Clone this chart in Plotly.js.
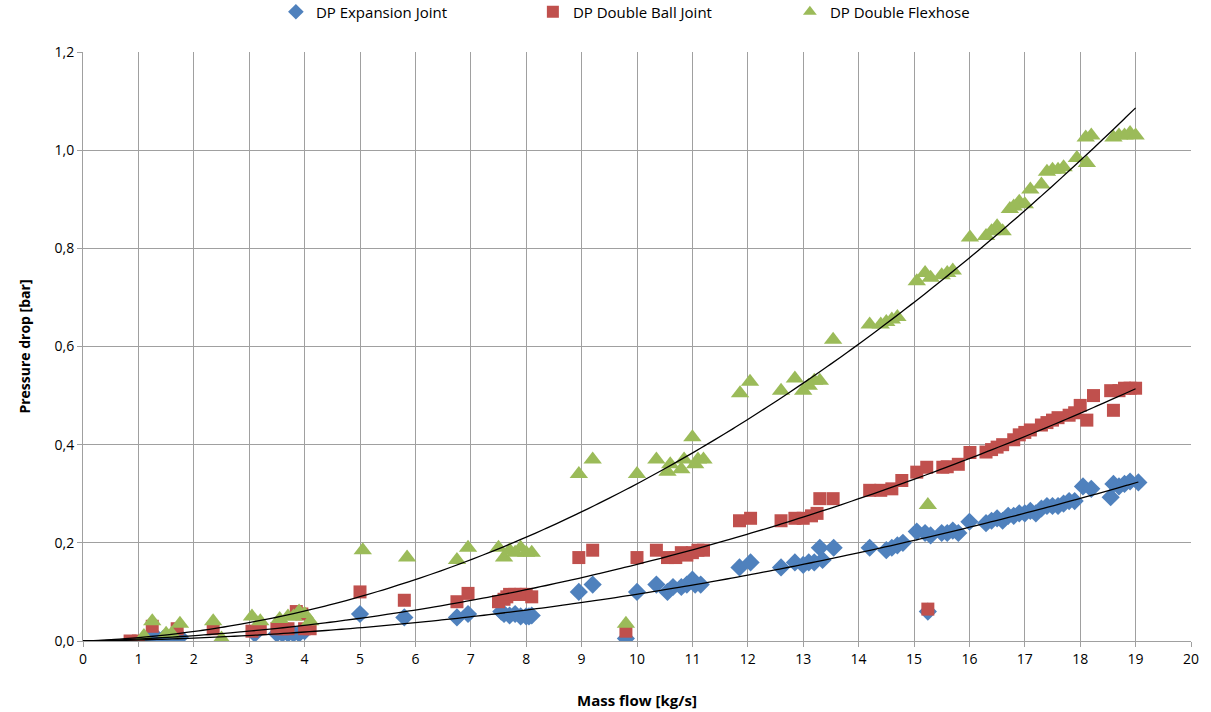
<!DOCTYPE html>
<html>
<head>
<meta charset="utf-8">
<script src="https://cdn.plot.ly/plotly-3.0.1.min.js"></script>
<style>html,body{margin:0;padding:0;background:#fff;}#chart{width:1211px;height:712px;}</style>
</head>
<body>
<div id="chart"></div>
<script>
// ---- Data ----
const seriesNames = ["DP Expansion Joint", "DP Double Ball Joint", "DP Double Flexhose"];

const expX = [1.2,1.3,1.45,1.55,1.65,1.75,3.1,3.5,3.6,3.7,3.8,3.9,4.0,
  5.0,5.8,6.75,6.95,7.55,7.6,7.7,7.8,7.9,8.0,8.05,8.1,
  8.95,9.2,9.8,10.0,10.35,10.55,10.65,10.8,10.9,11.0,11.05,11.15,
  11.85,12.05,12.6,12.85,13.0,13.1,13.2,13.3,13.35,13.55,
  14.2,14.5,14.6,14.7,14.8,15.05,15.2,15.25,15.3,15.5,15.6,15.7,15.8,16.0,
  16.3,16.4,16.5,16.6,16.7,16.8,16.9,17.0,17.1,17.2,17.3,17.4,17.5,17.6,17.7,17.8,17.9,18.05,18.2,18.55,18.6,18.7,18.8,18.9,19.05];
const expY = [0.005,0.01,0.005,0.005,0.005,0.008,0.015,0.015,0.015,0.015,0.015,0.015,0.02,
  0.055,0.048,0.048,0.055,0.06,0.055,0.052,0.055,0.05,0.05,0.05,0.052,
  0.1,0.115,0.005,0.1,0.115,0.1,0.11,0.11,0.115,0.125,0.115,0.115,
  0.15,0.16,0.15,0.16,0.155,0.16,0.16,0.19,0.165,0.19,
  0.19,0.185,0.19,0.195,0.2,0.223,0.22,0.06,0.215,0.22,0.22,0.225,0.22,0.243,
  0.24,0.245,0.25,0.245,0.255,0.255,0.26,0.26,0.265,0.26,0.27,0.275,0.275,0.275,0.28,0.285,0.285,0.315,0.31,0.293,0.32,0.315,0.32,0.325,0.323];

const ballX = [0.85,1.0,1.25,1.7,2.35,3.05,3.2,3.5,3.6,3.7,3.85,3.95,4.0,4.1,
  5.0,5.8,6.75,6.95,7.5,7.6,7.65,7.7,7.8,7.9,8.0,8.1,
  8.95,9.2,9.8,10.0,10.35,10.55,10.7,10.8,10.9,11.0,11.1,11.2,
  11.85,12.05,12.6,12.85,13.0,13.15,13.25,13.3,13.54,
  14.2,14.4,14.6,14.78,15.05,15.23,15.25,15.52,15.6,15.8,16.01,
  16.3,16.4,16.5,16.6,16.8,16.9,17.0,17.1,17.3,17.4,17.5,17.6,17.8,17.9,18.0,18.12,18.24,18.55,18.6,18.7,18.8,18.9,19.0];
const ballY = [0.0,0.0,0.03,0.025,0.025,0.02,0.025,0.025,0.025,0.025,0.06,0.055,0.025,0.025,
  0.1,0.083,0.08,0.097,0.08,0.085,0.09,0.095,0.095,0.095,0.095,0.09,
  0.17,0.185,0.02,0.17,0.185,0.17,0.17,0.18,0.175,0.18,0.185,0.185,
  0.245,0.25,0.245,0.25,0.25,0.255,0.26,0.29,0.29,
  0.307,0.307,0.31,0.327,0.344,0.354,0.065,0.354,0.355,0.36,0.384,
  0.385,0.39,0.395,0.4,0.41,0.42,0.425,0.43,0.44,0.445,0.45,0.455,0.46,0.465,0.48,0.45,0.5,0.51,0.47,0.51,0.515,0.515,0.515];

const flexX = [1.1,1.25,1.5,1.6,1.75,2.35,2.5,3.05,3.2,3.55,3.7,3.8,3.9,4.0,4.1,
  5.05,5.85,6.75,6.95,7.5,7.6,7.7,7.8,7.9,8.0,8.1,
  8.95,9.2,9.8,10.0,10.35,10.55,10.6,10.8,10.85,11.0,11.05,11.1,11.2,
  11.86,12.04,12.6,12.85,13.0,13.1,13.2,13.3,13.54,
  14.2,14.4,14.5,14.6,14.7,15.05,15.2,15.25,15.3,15.5,15.6,15.7,
  16.01,16.3,16.4,16.5,16.6,16.73,16.8,16.9,17.0,17.1,17.3,17.4,17.5,17.6,17.7,17.94,18.1,18.12,18.2,18.6,18.7,18.8,18.9,19.0];
const flexY = [0.01,0.04,0.015,0.015,0.035,0.04,0.005,0.05,0.04,0.045,0.05,0.05,0.06,0.055,0.04,
  0.185,0.17,0.165,0.19,0.19,0.17,0.185,0.18,0.19,0.18,0.18,
  0.34,0.37,0.035,0.34,0.37,0.345,0.36,0.35,0.37,0.415,0.36,0.37,0.37,
  0.505,0.528,0.51,0.535,0.51,0.52,0.53,0.53,0.614,
  0.645,0.645,0.65,0.655,0.66,0.733,0.75,0.277,0.74,0.745,0.75,0.755,
  0.822,0.825,0.835,0.845,0.835,0.88,0.885,0.895,0.89,0.92,0.93,0.956,0.96,0.96,0.965,0.984,1.026,0.974,1.03,1.026,1.03,1.03,1.035,1.03];

const xTicks = [0,1,2,3,4,5,6,7,8,9,10,11,12,13,14,15,16,17,18,19,20];
const yTicks = [0,0.2,0.4,0.6,0.8,1.0,1.2];

const colors = ["#4F81BD", "#C0504D", "#9BBB59"];
const symbols = ["diamond", "square", "triangle-up"];
const sizes = [14, 13, 16];

// Polynomial (order 2, through origin) least-squares trendline
function polyFit(xs, ys) {
  let s4=0,s3=0,s2=0,t2=0,t1=0;
  for (let i=0;i<xs.length;i++){const x=xs[i],y=ys[i];s4+=x**4;s3+=x**3;s2+=x*x;t2+=x*x*y;t1+=x*y;}
  const det=s4*s2-s3*s3;
  const a=(t2*s2-s3*t1)/det, b=(s4*t1-s3*t2)/det;
  return [a,b];
}
function trend(xs, ys) {
  const [a,b]=polyFit(xs,ys);
  const xmax=Math.max(...xs);
  const tx=[],ty=[];
  for(let i=0;i<=100;i++){const x=xmax*i/100;tx.push(x);ty.push(a*x*x+b*x);}
  return {tx,ty};
}

const font = "Open Sans, Liberation Sans, sans-serif";
const allX=[expX,ballX,flexX], allY=[expY,ballY,flexY];
const traces=[];
for(let k=0;k<3;k++){
  traces.push({x:allX[k],y:allY[k],type:"scatter",mode:"markers",name:seriesNames[k],
    marker:{symbol:symbols[k],color:colors[k],size:sizes[k],line:{width:0}}});
}
for(let k=0;k<3;k++){
  const t=trend(allX[k],allY[k]);
  traces.push({x:t.tx,y:t.ty,type:"scatter",mode:"lines",showlegend:false,hoverinfo:"skip",
    line:{color:"#000",width:1.3,shape:"spline"}});
}

const layout={
  width:1211,height:712,
  margin:{l:83,r:20,t:52,b:71},
  paper_bgcolor:"#fff",plot_bgcolor:"#fff",
  separators:", ",
  font:{family:font,size:14,color:"#000"},
  showlegend:true,
  legend:{orientation:"h",x:0.522,xanchor:"center",y:0.96,yanchor:"bottom",
    yref:"container",itemsizing:"constant",
    font:{family:font,size:15,color:"#000"},entrywidth:212,itemwidth:20,tracegroupgap:0},
  xaxis:{range:[0,20],tickvals:xTicks,ticktext:xTicks.map(String),showgrid:true,gridcolor:"#a0a0a0",gridwidth:1,
    showline:true,linecolor:"#a0a0a0",linewidth:1,ticks:"outside",ticklen:5,tickcolor:"#a0a0a0",
    zeroline:false,tickfont:{family:font,size:14,color:"#000"},
    title:{text:"<b>Mass flow [kg/s]</b>",font:{family:font,size:15,color:"#000"},standoff:28}},
  yaxis:{range:[0,1.2],tickvals:yTicks,tickformat:".1f",showgrid:true,gridcolor:"#a0a0a0",gridwidth:1,
    showline:true,linecolor:"#a0a0a0",linewidth:1,ticks:"outside",ticklen:5,tickcolor:"#a0a0a0",
    zeroline:false,tickfont:{family:font,size:14,color:"#000"},
    title:{text:"<b>Pressure drop [bar]</b>",font:{family:font,size:14,color:"#000"},standoff:20}},
};
Plotly.newPlot("chart",traces,layout,{displayModeBar:false,staticPlot:true});
</script>
</body>
</html>
